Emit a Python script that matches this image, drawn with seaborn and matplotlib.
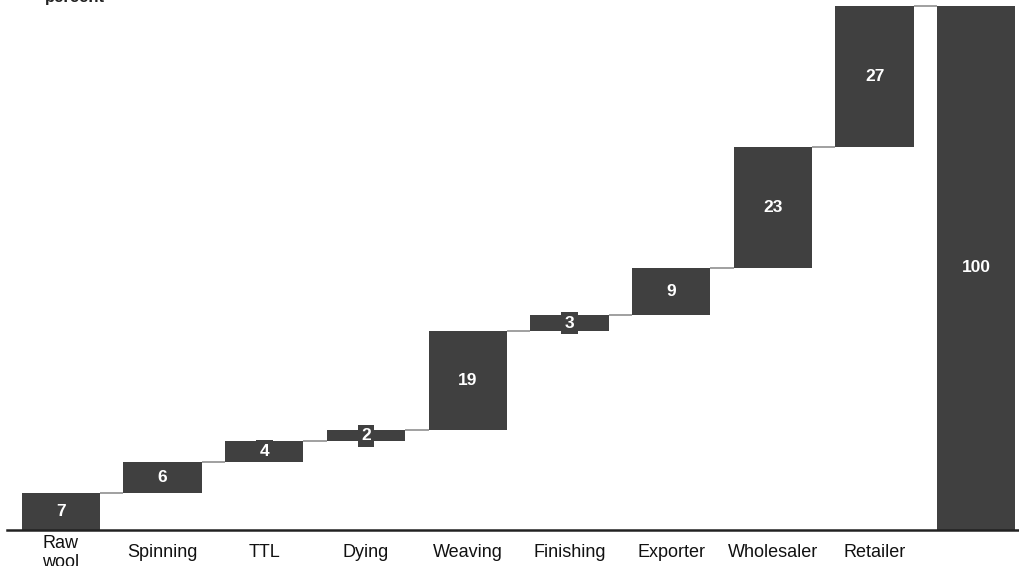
import matplotlib
matplotlib.use("Agg")
import matplotlib.pyplot as plt
import seaborn as sns
import numpy as np

# Value chain steps and their contribution (percent of final price)
stages = ["Raw\nwool", "Spinning", "TTL", "Dying", "Weaving", "Finishing",
          "Exporter", "Wholesaler", "Retailer", "Total"]
tick_labels = ["Raw\nwool", "Spinning", "TTL", "Dying", "Weaving", "Finishing",
               "Exporter", "Wholesaler", "Retailer", ""]
steps = [7, 6, 4, 2, 19, 3, 9, 23, 27]
total = 100

bar_color = "#404040"
line_color = "#999999"

sns.set_style("white")
plt.rcParams["font.family"] = ["Liberation Sans", "DejaVu Sans"]

heights = steps + [total]
bottoms = list(np.concatenate([[0], np.cumsum(steps)[:-1]])) + [0]
tops = [b + h for b, h in zip(bottoms, heights)]

fig = plt.figure(figsize=(10.19, 5.66), dpi=100)
ax = fig.add_axes([7 / 1019, 36 / 566, 1 - 7 / 1019, 530 / 566])

width = 0.77
sns.barplot(x=stages, y=heights, bottom=bottoms, color=bar_color,
            saturation=1, width=width, ax=ax, linewidth=0)

# connector lines between consecutive bars
for i in range(len(heights) - 1):
    level = tops[i]
    ax.plot([i + width / 2, i + 1 - width / 2], [level, level],
            color=line_color, lw=1.3, zorder=1, solid_capstyle="butt")

# value labels centred in each bar
for i, (b, h) in enumerate(zip(bottoms, heights)):
    ax.text(i, b + h / 2, f"{h}", ha="center", va="center", color="white",
            fontsize=12.5, fontweight="bold",
            bbox=dict(boxstyle="square,pad=0.2", fc=bar_color, ec="none"))

ax.set_xlim(-0.53, len(heights) - 1 + 0.42)
ax.set_ylim(0, 100 * 530 / 524)

ax.set_xticks(range(len(tick_labels)))
ax.set_xticklabels(tick_labels, fontsize=13, color="#111111", linespacing=1.1)
for lbl in ax.get_xticklabels():
    lbl.set_va("center")
ax.tick_params(axis="x", length=0, pad=16.5)
ax.set_yticks([])
ax.set_ylabel("")

for side in ["top", "right", "left"]:
    ax.spines[side].set_visible(False)
ax.spines["bottom"].set_color("#222222")
ax.spines["bottom"].set_linewidth(1.8)

fig.text(45 / 1019, 1 - 2 / 566, "percent", ha="left", va="baseline",
         fontsize=12, fontweight="bold", color="#222222")

fig.savefig("out.png", dpi=100)
